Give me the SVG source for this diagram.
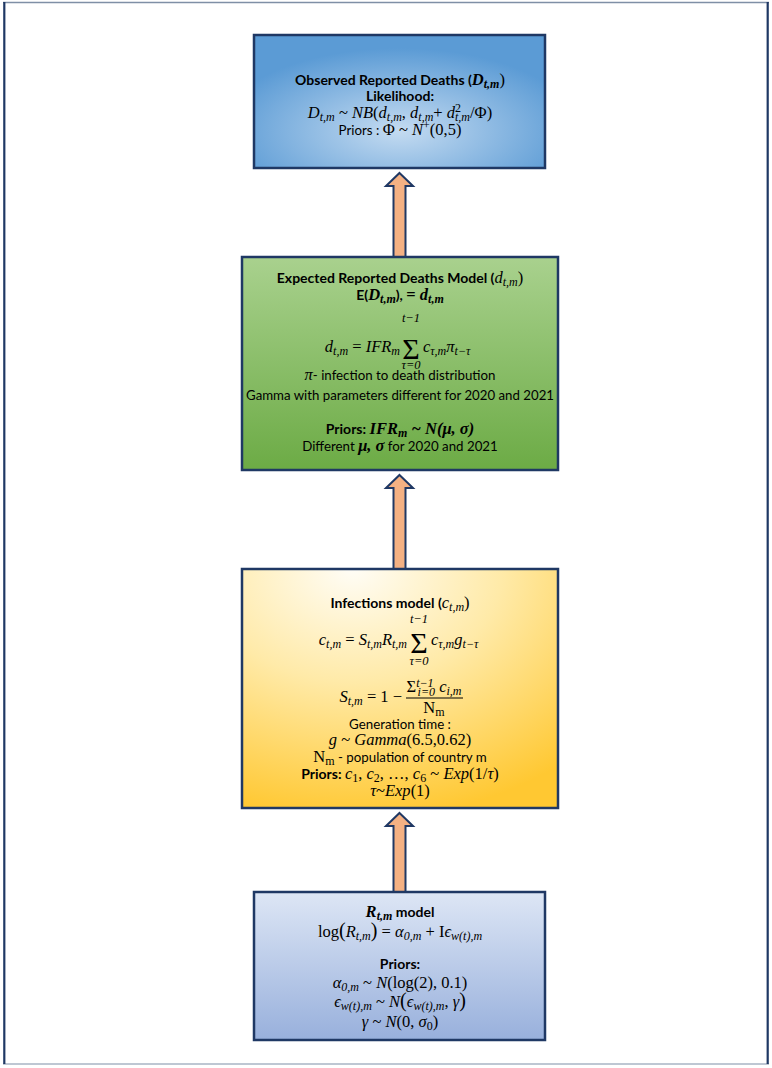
<svg xmlns="http://www.w3.org/2000/svg" width="772" height="1068" viewBox="0 0 772 1068">
<defs>
<radialGradient id="gTop" cx="0.5" cy="0.72" r="0.62">
<stop offset="0" stop-color="#c4dbf1"/>
<stop offset="1" stop-color="#5b9bd5"/>
</radialGradient>
<linearGradient id="gGreen" x1="0" y1="0" x2="0" y2="1">
<stop offset="0" stop-color="#a9d18e"/>
<stop offset="1" stop-color="#6cab45"/>
</linearGradient>
<radialGradient id="gYellow" cx="0.35" cy="0" r="1.05">
<stop offset="0" stop-color="#fffdf6"/>
<stop offset="0.45" stop-color="#ffeaa8"/>
<stop offset="1" stop-color="#ffc832"/>
</radialGradient>
<linearGradient id="gBlue" x1="0" y1="0" x2="0" y2="1">
<stop offset="0" stop-color="#dde6f5"/>
<stop offset="1" stop-color="#98b0dc"/>
</linearGradient>
<style>
.t{font-family:Lato,"Open Sans","Liberation Sans",sans-serif;font-size:13.3px;fill:#000;text-anchor:middle}
.b{font-weight:bold;font-size:14px}
.m{font-family:"Liberation Serif","DejaVu Serif",serif;font-style:italic;font-size:16.5px;fill:#000}
.n{font-style:normal}
.s{font-size:12px}
.sig{font-family:"Liberation Serif","DejaVu Serif",serif;font-style:normal;font-size:30px;fill:#000;text-anchor:middle}
.lim{font-family:"Liberation Serif","DejaVu Serif",serif;font-style:italic;font-size:12.5px;fill:#000;text-anchor:middle}
.box{stroke:#1f3864;stroke-width:2.5}
.arrow{fill:#f4b183;stroke:#1f3864;stroke-width:2}
</style>
</defs>
<rect width="772" height="1068" fill="#ffffff"/>
<g id="frame">
<line x1="3" y1="2.5" x2="769" y2="2.5" stroke="#7f8fa6" stroke-width="1.5"/>
<line x1="3" y1="1064" x2="769" y2="1064" stroke="#a9b4c4" stroke-width="1.5"/>
<line x1="4.3" y1="2" x2="4.3" y2="1064" stroke="#1f3864" stroke-width="2.2"/>
<line x1="767.7" y1="2" x2="767.7" y2="1064" stroke="#1f3864" stroke-width="2.2"/>
</g>
<g id="connectors">
<polygon class="arrow" points="399.5,173 413,186 405.5,186 405.5,257 393.5,257 393.5,186 386,186"/>
<polygon class="arrow" points="399.5,475 413,488 405.5,488 405.5,569 393.5,569 393.5,488 386,488"/>
<polygon class="arrow" points="399.5,813 413,826 405.5,826 405.5,892 393.5,892 393.5,826 386,826"/>
</g>
<g id="observed-deaths">
<rect class="box" x="254" y="35" width="291" height="133" fill="url(#gTop)"/>
<text class="t" x="400" y="85"><tspan class="b">Observed Reported Deaths (</tspan><tspan class="m b">D<tspan class="s" dy="3">t,m</tspan></tspan><tspan class="m n" dy="-3">)</tspan></text>
<text class="t b" x="400" y="101">Likelihood:</text>
<text class="m" x="400" y="118" text-anchor="middle">D<tspan class="s" dy="3">t,m</tspan><tspan class="n" dy="-3"> ~ </tspan>NB<tspan class="n">(</tspan>d<tspan class="s" dy="3">t,m</tspan><tspan class="n" dy="-3">, </tspan>d<tspan class="s" dy="3">t,m</tspan><tspan class="n" dy="-3">+ </tspan>d<tspan class="s n" dy="-6">2</tspan><tspan class="s" dx="-6" dy="9">t,m</tspan><tspan class="n" dy="-3">/Φ)</tspan></text>
<text class="t" x="400" y="135">Priors : <tspan class="m n">Φ ~ </tspan><tspan class="m">N</tspan><tspan class="m n s" dy="-6">+</tspan><tspan class="m n" dy="6">(0,5)</tspan></text>
</g>
<g id="expected-deaths">
<rect class="box" x="242" y="257" width="316" height="213" fill="url(#gGreen)"/>
<text class="t" x="400" y="283"><tspan class="b">Expected Reported Deaths Model (</tspan><tspan class="m">d<tspan class="s" dy="3">t,m</tspan></tspan><tspan class="m n" dy="-3">)</tspan></text>
<text class="t b" x="400" y="300">E(<tspan class="m b">D<tspan class="s" dy="3">t,m</tspan></tspan><tspan dy="-3">), </tspan><tspan class="m n b">= </tspan><tspan class="m b">d<tspan class="s" dy="3">t,m</tspan></tspan></text>
<text class="m" x="400" y="352" text-anchor="end">d<tspan class="s" dy="3">t,m</tspan><tspan class="n" dy="-3"> = </tspan>IFR<tspan class="s" dy="3">m</tspan></text>
<text class="lim" x="411" y="322">t−1</text>
<text class="sig" x="411" y="359">Σ</text>
<text class="lim" x="411" y="369">τ=0</text>
<text class="m" x="423" y="352">c<tspan class="s" dy="3">τ,m</tspan><tspan dy="-3">π</tspan><tspan class="s" dy="3">t−τ</tspan></text>
<text class="t" x="400" y="380"><tspan class="m">π</tspan>- infection to death distribution</text>
<text class="t" x="400" y="400" textLength="308" lengthAdjust="spacingAndGlyphs">Gamma with parameters different for 2020 and 2021</text>
<text class="t" x="400" y="434"><tspan class="b">Priors: </tspan><tspan class="m b">IFR<tspan class="s" dy="3">m</tspan><tspan dy="-3"> ~ N(μ, σ)</tspan></tspan></text>
<text class="t" x="400" y="451">Different <tspan class="m b">μ, σ</tspan> for 2020 and 2021</text>
</g>
<g id="infections-model">
<rect class="box" x="242" y="569" width="316" height="239" fill="url(#gYellow)"/>
<text class="t" x="400" y="608"><tspan class="b">Infections model (</tspan><tspan class="m">c<tspan class="s" dy="3">t,m</tspan></tspan><tspan class="m n" dy="-3">)</tspan></text>
<text class="m" x="407" y="645" text-anchor="end">c<tspan class="s" dy="3">t,m</tspan><tspan class="n" dy="-3"> = </tspan>S<tspan class="s" dy="3">t,m</tspan><tspan dy="-3">R</tspan><tspan class="s" dy="3">t,m</tspan></text>
<text class="lim" x="419" y="623">t−1</text>
<text class="sig" x="419" y="653">Σ</text>
<text class="lim" x="419" y="665">τ=0</text>
<text class="m" x="431" y="645">c<tspan class="s" dy="3">τ,m</tspan><tspan dy="-3">g</tspan><tspan class="s" dy="3">t−τ</tspan></text>
<text class="m" x="402" y="702" text-anchor="end">S<tspan class="s" dy="3">t,m</tspan><tspan class="n" dy="-3"> = 1 −</tspan></text>
<text class="m" x="434" y="692" text-anchor="middle"><tspan class="n">Σ</tspan><tspan class="s" dy="-5">t−1</tspan><tspan class="s" dx="-16" dy="9">i=0</tspan><tspan dy="-4"> c</tspan><tspan class="s" dy="3">i,m</tspan></text>
<line x1="406" y1="698" x2="463" y2="698" stroke="#000" stroke-width="1"/>
<text class="m n" x="434" y="713" text-anchor="middle">N<tspan class="s" dy="3">m</tspan></text>
<text class="t" x="400" y="729">Generation time :</text>
<text class="m" x="400" y="745" text-anchor="middle">g<tspan class="n"> ~ </tspan>Gamma<tspan class="n">(6.5,0.62)</tspan></text>
<text class="t" x="400" y="762"><tspan class="m n">N<tspan class="s" dy="3">m</tspan></tspan><tspan dy="-3"> - population of country m</tspan></text>
<text class="t" x="400" y="779"><tspan class="b">Priors: </tspan><tspan class="m">c<tspan class="s n" dy="3">1</tspan><tspan class="n" dy="-3">, </tspan>c<tspan class="s n" dy="3">2</tspan><tspan class="n" dy="-3">, …, </tspan>c<tspan class="s n" dy="3">6</tspan><tspan class="n" dy="-3"> ~ </tspan>Exp<tspan class="n">(1/</tspan>τ<tspan class="n">)</tspan></tspan></text>
<text class="m" x="400" y="796" text-anchor="middle">τ<tspan class="n">~</tspan>Exp<tspan class="n">(1)</tspan></text>
</g>
<g id="r-model">
<rect class="box" x="254" y="892" width="291" height="148" fill="url(#gBlue)"/>
<text class="t" x="400" y="917"><tspan class="m b">R<tspan class="s" dy="3">t,m</tspan></tspan><tspan class="b" dy="-3"> model</tspan></text>
<text class="m" x="400" y="937" text-anchor="middle"><tspan class="n">log</tspan><tspan class="n" style="font-size:20px">(</tspan>R<tspan class="s" dy="3">t,m</tspan><tspan class="n" dy="-3" style="font-size:20px">)</tspan><tspan class="n"> = </tspan>α<tspan class="s" dy="3">0,m</tspan><tspan class="n" dy="-3"> + I</tspan>ϵ<tspan class="s" dy="3">w(t),m</tspan></text>
<text class="t b" x="400" y="969">Priors:</text>
<text class="m" x="400" y="988" text-anchor="middle">α<tspan class="s" dy="3">0,m</tspan><tspan class="n" dy="-3"> ~ </tspan>N<tspan class="n">(log(2), 0.1)</tspan></text>
<text class="m" x="400" y="1007" text-anchor="middle">ϵ<tspan class="s" dy="3">w(t),m</tspan><tspan class="n" dy="-3"> ~ </tspan>N<tspan class="n" style="font-size:20px">(</tspan>ϵ<tspan class="s" dy="3">w(t),m</tspan><tspan class="n" dy="-3">, </tspan>γ<tspan class="n" style="font-size:20px">)</tspan></text>
<text class="m" x="400" y="1027" text-anchor="middle">γ<tspan class="n"> ~ </tspan>N<tspan class="n">(0, </tspan>σ<tspan class="s n" dy="3">0</tspan><tspan class="n" dy="-3">)</tspan></text>
</g>
</svg>
